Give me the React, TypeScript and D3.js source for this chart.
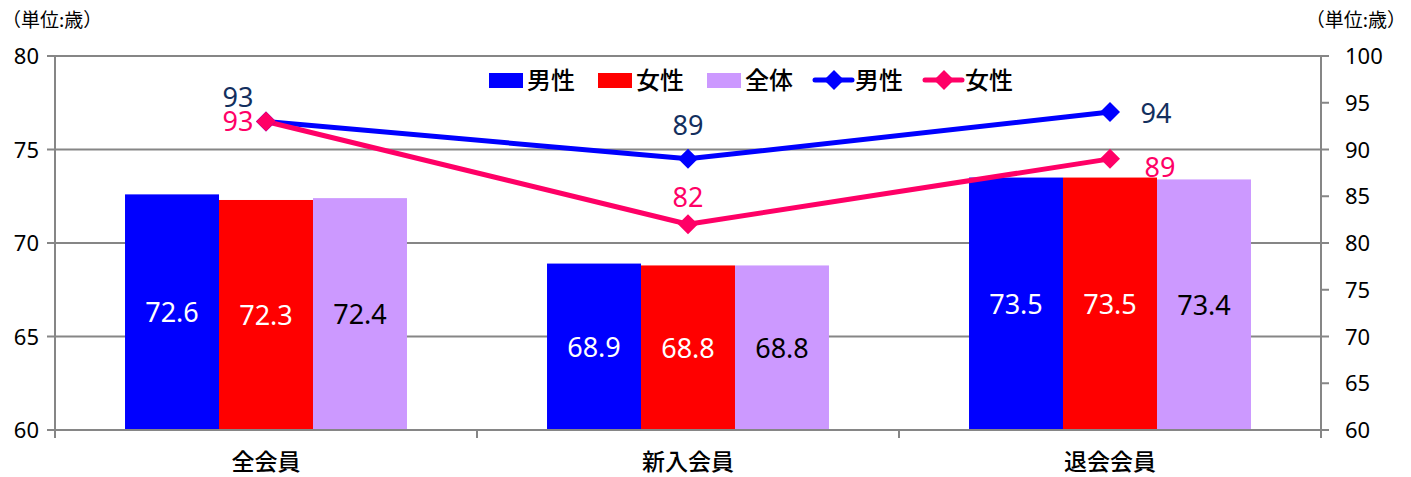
import React from 'react';
import * as d3 from 'd3';

const categories = ['全会員', '新入会員', '退会会員'];
const barSeries = ['男性', '女性', '全体'];
const barMale = [72.6, 68.9, 73.5];
const barFemale = [72.3, 68.8, 73.5];
const barAll = [72.4, 68.8, 73.4];
const lineMale = [93, 89, 94];
const lineFemale = [93, 82, 89];
const leftTicks = [60, 65, 70, 75, 80];
const rightTicks = [60, 65, 70, 75, 80, 85, 90, 95, 100];

const barColors = ['#0000FF', '#FF0000', '#CC99FF'];
const barTextColors = ['#FFFFFF', '#FFFFFF', '#000000'];
const maleLine = '#0000FF';
const femaleLine = '#FF0066';
const maleLabel = '#132f5e';
const grid = '#868686';
const numFont = '"Noto Sans", sans-serif';
const jpFont = '"Noto Sans CJK JP", sans-serif';

const W = 1411;
const H = 477;
const plot = { left: 55, right: 1321, top: 56, bottom: 430 };

function Diamond({ x, y, color }: { x: number; y: number; color: string }) {
  const r = 10;
  return <path d={`M${x},${y - r}L${x + r},${y}L${x},${y + r}L${x - r},${y}Z`} fill={color} />;
}

export default function App() {
  const x = d3.scaleBand<string>().domain(categories).range([plot.left, plot.right]).paddingInner(0).paddingOuter(0);
  const inner = d3.scaleBand<string>().domain(barSeries).range([0, x.bandwidth()]).paddingOuter(0.745).paddingInner(0);
  const yL = d3.scaleLinear().domain([60, 80]).range([plot.bottom, plot.top]);
  const yR = d3.scaleLinear().domain([60, 100]).range([plot.bottom, plot.top]);
  const bars = [barMale, barFemale, barAll];
  const cx = (c: string) => x(c)! + x.bandwidth() / 2;

  const line = d3.line<number>().x((_, i) => cx(categories[i])).y((d) => yR(d));

  // label offsets relative to the marker
  const maleOffsets = [[-28, -14], [0, -24], [46, 11]];
  const femaleOffsets = [[-28, 10], [0, -17], [50, 18]];

  const legend = [
    { type: 'bar', color: barColors[0], label: '男性', x: 489 },
    { type: 'bar', color: barColors[1], label: '女性', x: 598 },
    { type: 'bar', color: barColors[2], label: '全体', x: 707 },
    { type: 'line', color: maleLine, label: '男性', x: 815 },
    { type: 'line', color: femaleLine, label: '女性', x: 925 },
  ];

  return (
    <svg width={W} height={H} style={{ position: 'absolute', left: 0, top: 0, background: '#fff' }}>
      <text x={2} y={27} fontFamily={jpFont} fontSize={19} fill="#000">（単位:歳）</text>
      <text x={1406} y={27} fontFamily={jpFont} fontSize={19} fill="#000" textAnchor="end">（単位:歳）</text>

      {/* gridlines */}
      {leftTicks.map((t) => (
        <line key={`g${t}`} x1={plot.left - 8} x2={plot.right} y1={yL(t)} y2={yL(t)} stroke={grid} strokeWidth={2} />
      ))}
      {/* axes */}
      <line x1={plot.left} x2={plot.left} y1={plot.top} y2={plot.bottom + 2} stroke={grid} strokeWidth={2} />
      <line x1={plot.right} x2={plot.right} y1={plot.top} y2={plot.bottom + 2} stroke={grid} strokeWidth={2} />
      {rightTicks.map((t) => (
        <line key={`rt${t}`} x1={plot.right} x2={plot.right + 8} y1={yR(t)} y2={yR(t)} stroke={grid} strokeWidth={2} />
      ))}
      {[0, 1, 2, 3].map((i) => {
        const xx = plot.left + i * x.bandwidth();
        return <line key={`bt${i}`} x1={xx} x2={xx} y1={plot.bottom} y2={plot.bottom + 8} stroke={grid} strokeWidth={2} />;
      })}

      {leftTicks.map((t) => (
        <text key={`lt${t}`} x={39} y={yL(t) + 8} textAnchor="end" fontFamily={numFont} fontSize={22} fill="#000">{t}</text>
      ))}
      {rightTicks.map((t) => (
        <text key={`rl${t}`} x={1345} y={yR(t) + 8} fontFamily={numFont} fontSize={22} fill="#000">{t}</text>
      ))}
      {categories.map((c) => (
        <text key={`c${c}`} x={cx(c)} y={470} textAnchor="middle" fontFamily={jpFont} fontSize={23} fontWeight={500} fill="#000">{c}</text>
      ))}

      {/* bars */}
      {categories.map((c, ci) =>
        barSeries.map((s, si) => {
          const v = bars[si][ci];
          const bx = x(c)! + inner(s)!;
          const top = yL(v);
          return (
            <g key={`b${ci}${si}`}>
              <rect x={bx} y={top} width={inner.bandwidth()} height={plot.bottom - top} fill={barColors[si]} />
              <text x={bx + inner.bandwidth() / 2} y={(top + plot.bottom) / 2 + 10} textAnchor="middle"
                fontFamily={numFont} fontSize={27} fill={barTextColors[si]}>{v.toFixed(1)}</text>
            </g>
          );
        })
      )}
      <line x1={plot.left} x2={plot.right} y1={plot.bottom} y2={plot.bottom} stroke={grid} strokeWidth={2} />

      {/* lines */}
      <path d={line(lineMale)!} fill="none" stroke={maleLine} strokeWidth={5} strokeLinejoin="round" />
      <path d={line(lineFemale)!} fill="none" stroke={femaleLine} strokeWidth={5} strokeLinejoin="round" />
      {lineMale.map((v, i) => <Diamond key={`dm${i}`} x={cx(categories[i])} y={yR(v)} color={maleLine} />)}
      {lineFemale.map((v, i) => <Diamond key={`df${i}`} x={cx(categories[i])} y={yR(v)} color={femaleLine} />)}
      {lineMale.map((v, i) => (
        <text key={`lm${i}`} x={cx(categories[i]) + maleOffsets[i][0]} y={yR(v) + maleOffsets[i][1]} textAnchor="middle"
          fontFamily={numFont} fontSize={27} fill={maleLabel}>{v}</text>
      ))}
      {lineFemale.map((v, i) => (
        <text key={`lf${i}`} x={cx(categories[i]) + femaleOffsets[i][0]} y={yR(v) + femaleOffsets[i][1]} textAnchor="middle"
          fontFamily={numFont} fontSize={27} fill={femaleLine}>{v}</text>
      ))}

      {/* legend */}
      {legend.map((l, i) => (
        <g key={`lg${i}`}>
          {l.type === 'bar' ? (
            <rect x={l.x} y={73} width={34} height={15} fill={l.color} />
          ) : (
            <g>
              <line x1={l.x} x2={l.x + 37} y1={80} y2={80} stroke={l.color} strokeWidth={5} strokeLinecap="round" />
              <Diamond x={l.x + 19} y={80} color={l.color} />
            </g>
          )}
          <text x={l.x + (l.type === 'bar' ? 38 : 40)} y={89} fontFamily={jpFont} fontSize={24} fontWeight={500} fill="#000">{l.label}</text>
        </g>
      ))}
    </svg>
  );
}
